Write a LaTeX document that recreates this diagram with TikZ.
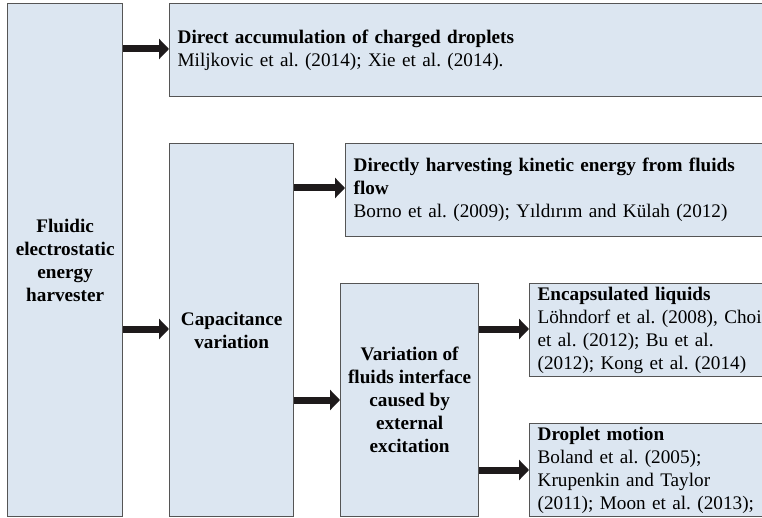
\documentclass[tikz,border=0pt]{standalone}
\usepackage{fontspec}
\setmainfont{Liberation Serif}
\frenchspacing
\usetikzlibrary{arrows.meta}
\tikzset{box/.style={draw=boxline, fill=boxfill, line width=1.3pt, rectangle, anchor=north west, inner sep=0pt, font=\fontsize{19.2}{23}\selectfont},
	leftbox/.style={box, align=center, font=\fontsize{19.2}{23}\selectfont\bfseries},
	refbox/.style={box, align=left, text width=#1, inner xsep=8pt},
	arr/.style={line width=7pt, color=arrowcol, -{Triangle[length=10pt, width=20pt]}, shorten >=0pt}}

\begin{document}
\begin{tikzpicture}[x=1pt, y=-1pt]

	\definecolor{boxfill}{RGB}{220,230,241}
	\definecolor{boxline}{RGB}{85,85,85}
	\definecolor{arrowcol}{RGB}{30,26,27}

	\useasboundingbox (0,0) rectangle (762,518);

	% main column
	\node (harvester) [leftbox, minimum width=115pt, minimum height=513pt] at (7,3) {Fluidic\\electrostatic\\energy\\harvester};
	\node (capacitance) [leftbox, minimum width=124pt, minimum height=373pt] at (169,143) {Capacitance\\variation};
	\node (interface) [leftbox, minimum width=138pt, minimum height=233pt] at (340,283) {Variation of\\fluids interface\\caused by\\external\\excitation};

	% boxes with references
	\node (accumulation) [refbox=600pt, minimum height=93pt] at (169,3) {\textbf{Direct accumulation of charged droplets}\\Miljkovic et al. (2014); Xie et al. (2014).};
	\node (kinetic) [refbox=425pt, minimum height=93pt] at (345,143) {\textbf{Directly harvesting kinetic energy from fluids}\\\textbf{flow}\\Borno et al. (2009); Yıldırım and Külah (2012)};
	\node (encapsulated) [refbox=240pt, minimum height=93pt] at (529,283) {\textbf{Encapsulated liquids}\\Löhndorf et al. (2008), Choi\\et al. (2012); Bu et al.\\(2012); Kong et al. (2014)};
	\node (droplet) [refbox=240pt, minimum height=93pt] at (529,423) {\textbf{Droplet motion}\\Boland et al. (2005);\\Krupenkin and Taylor\\(2011); Moon et al. (2013);};

	% arrows
	\draw [arr] (harvester.east |- 0,49) -- (accumulation.west |- 0,49);
	\draw [arr] (harvester.east |- 0,329) -- (capacitance.west |- 0,329);
	\draw [arr] (capacitance.east |- 0,188) -- (kinetic.west |- 0,188);
	\draw [arr] (capacitance.east |- 0,400) -- (interface.west |- 0,400);
	\draw [arr] (interface.east |- 0,329) -- (encapsulated.west |- 0,329);
	\draw [arr] (interface.east |- 0,470) -- (droplet.west |- 0,470);

\end{tikzpicture}
\end{document}
